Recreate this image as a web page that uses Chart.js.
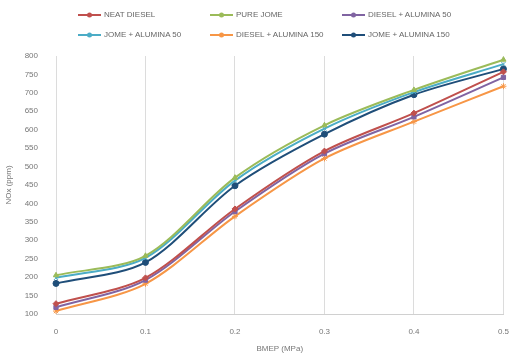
<!DOCTYPE html>
<html>
<head>
<meta charset="utf-8">
<script src="https://cdn.jsdelivr.net/npm/chart.js@4/dist/chart.umd.min.js"></script>
<style>
	html, body { margin: 0; padding: 0; background: #fff; }
	#wrap { position: relative; width: 522px; height: 358px; }
	#legend {
		position: absolute; left: 0; top: 0; width: 522px; height: 48px;
		font-family: "Liberation Sans", Arial, sans-serif; font-size: 8px; color: #666;
	}
	.item { position: absolute; height: 10px; line-height: 10px; white-space: nowrap; }
	.item svg { position: absolute; left: 0; top: 0; }
	.item span { position: absolute; left: 26px; top: 0; }
</style>
</head>
<body>
<div id="wrap">
	<canvas id="chart" width="522" height="358"></canvas>
	<div id="legend"></div>
</div>
<script>
(function () {
	'use strict';

	var bmep = ['0', '0.1', '0.2', '0.3', '0.4', '0.5'];
	var yTicks = [100, 150, 200, 250, 300, 350, 400, 450, 500, 550, 600, 650, 700, 750, 800];

	var neatDiesel = [128, 198, 385, 542, 645, 757];
	var pureJome = [205, 258, 470, 612, 708, 790];
	var dieselAlumina50 = [118, 192, 378, 535, 635, 742];
	var jomeAlumina50 = [198, 252, 462, 603, 702, 778];
	var dieselAlumina150 = [108, 182, 365, 522, 622, 718];
	var jomeAlumina150 = [183, 240, 448, 588, 695, 765];

	var seriesNames = ['NEAT DIESEL', 'PURE JOME', 'DIESEL + ALUMINA 50', 'JOME + ALUMINA 50', 'DIESEL + ALUMINA 150', 'JOME + ALUMINA 150'];
	var seriesValues = [neatDiesel, pureJome, dieselAlumina50, jomeAlumina50, dieselAlumina150, jomeAlumina150];
	var seriesColors = ['#c0504d', '#9bbb59', '#8064a2', '#4bacc6', '#f79646', '#1f4e79'];
	var seriesMarkers = ['rectRot', 'triangle', 'rect', 'crossRot', 'star', 'circle'];

	var font = { family: '"Liberation Sans", Arial, sans-serif', size: 8 };
	var grey = '#777';

	var datasets = seriesNames.map(function (name, i) {
		return {
			label: name,
			data: seriesValues[i],
			borderColor: seriesColors[i],
			backgroundColor: seriesColors[i],
			borderWidth: 2,
			tension: 0.3,
			pointStyle: seriesMarkers[i],
			pointRadius: 3,
			pointBorderWidth: 1,
		};
	});

	new Chart(document.getElementById('chart'), {
		type: 'line',
		data: { labels: bmep, datasets: datasets },
		options: {
			responsive: false,
			animation: false,
			layout: { padding: { top: 56, right: 5, left: 0, bottom: 0 } },
			plugins: {
				legend: { display: false },
				tooltip: { enabled: false },
			},
			scales: {
				x: {
					offset: false,
					grid: { display: true, color: '#dcdcdc', drawTicks: false },
					border: { display: true, color: '#d0d0d0' },
					ticks: { color: grey, font: font, padding: 13, maxRotation: 0 },
					title: { display: true, text: 'BMEP (MPa)', color: grey, font: font, padding: { top: 6 } },
					afterFit: function (scale) { scale.height = 44; },
				},
				y: {
					min: 100,
					max: 800,
					afterBuildTicks: function (scale) {
						scale.ticks = yTicks.map(function (v) { return { value: v }; });
					},
					grid: { display: false },
					border: { display: false },
					ticks: { color: grey, font: font, padding: 10 },
					title: { display: true, text: 'NOx (ppm)', color: grey, font: font, padding: { bottom: 2 } },
					afterFit: function (scale) { scale.width = 56; },
				},
			},
		},
	});

	// legend laid out in three fixed columns, two rows
	var legend = document.getElementById('legend');
	var colX = [78, 210, 342];
	var rowY = [10, 30];
	seriesNames.forEach(function (name, i) {
		var item = document.createElement('div');
		item.className = 'item';
		item.style.left = colX[i % 3] + 'px';
		item.style.top = rowY[Math.floor(i / 3)] + 'px';
		item.innerHTML =
			'<svg width="24" height="10"><line x1="0" y1="5" x2="23" y2="5" stroke="' + seriesColors[i] +
			'" stroke-width="2"/><circle cx="11.5" cy="5" r="2.5" fill="' + seriesColors[i] + '"/></svg>' +
			'<span>' + name + '</span>';
		legend.appendChild(item);
	});
})();
</script>
</body>
</html>
